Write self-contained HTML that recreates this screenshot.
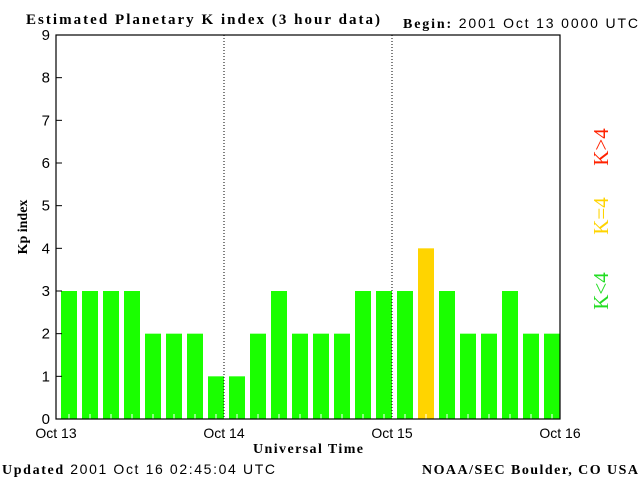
<!DOCTYPE html>
<html><head><meta charset="utf-8"><style>
body{margin:0;background:#fff;width:640px;height:480px;overflow:hidden}
svg text{font-family:"Liberation Sans",sans-serif;font-size:13px}
.b{font-family:"Liberation Serif",serif;font-weight:bold}
.lg{font-family:"Liberation Serif",serif;font-size:21px}
</style></head><body>
<svg width="640" height="480">
<text class="b" x="26" y="24" textLength="354" lengthAdjust="spacing" style="font-size:15px">Estimated Planetary K index (3 hour data)</text>
<text x="403" y="28" textLength="235" lengthAdjust="spacing" style="font-size:14px"><tspan class="b">Begin:</tspan> 2001 Oct 13 0000 UTC</text>
<g id="plot"></g>
<text class="b" transform="translate(27,227) rotate(-90)" text-anchor="middle" style="font-size:14px">Kp index</text>
<text class="b" x="253" y="453" textLength="110" lengthAdjust="spacing" style="font-size:14px">Universal Time</text>
<text x="2" y="474" textLength="273" lengthAdjust="spacing" style="font-size:14px"><tspan class="b">Updated</tspan> 2001 Oct 16 02:45:04 UTC</text>
<text class="b" x="422" y="474" textLength="216" lengthAdjust="spacing" style="font-size:14px">NOAA/SEC Boulder, CO USA</text>
<text class="lg" transform="translate(608,291) rotate(-90)" text-anchor="middle" fill="#22dd22">K&lt;4</text>
<text class="lg" transform="translate(608,216) rotate(-90)" text-anchor="middle" fill="#ffd400">K=4</text>
<text class="lg" transform="translate(608,147) rotate(-90)" text-anchor="middle" fill="#ff2200">K&gt;4</text>
</svg>
<script>
const kpValues=[3,3,3,3,2,2,2,1,1,2,3,2,2,2,3,3,3,4,3,2,2,3,2,2];
const yTicks=[0,1,2,3,4,5,6,7,8,9];
const dayLabels=["Oct 13","Oct 14","Oct 15","Oct 16"];
const NS="http://www.w3.org/2000/svg";
const g=document.getElementById('plot');
const L=56,R=560,T=35,B=419;
const yS=v=>B-(B-T)*v/9;
const slot=(R-L)/kpValues.length;
const xS=i=>L+i*slot;
function mk(t,a){const e=document.createElementNS(NS,t);for(const k in a)e.setAttribute(k,a[k]);g.appendChild(e);return e;}
kpValues.forEach((v,i)=>{
 const col=v<4?'#1aff00':(v==4?'#ffd400':'#ff2200');
 const r=mk('rect',{x:xS(i)+5,y:yS(v),width:slot-5,height:B-yS(v),fill:col});
 
 
 const t=mk('line',{x1:xS(i)+13,x2:xS(i)+13,y1:B,y2:B-5,stroke:'#fff'});
 
 
});
for(let d=1;d<dayLabels.length-1;d++){
 const x=L+d*8*slot;
 const l=mk('line',{x1:x,x2:x,y1:T,y2:B,stroke:'#000','stroke-dasharray':'1,2'});
 
 
}
const ax=mk('rect',{x:L,y:T,width:R-L,height:B-T,fill:'none',stroke:'#000','stroke-width':1.2});


yTicks.forEach(v=>{
 const y=yS(v);
 mk('line',{x1:L,x2:L+6,y1:y,y2:y,stroke:'#000'});
 const t=mk('text',{x:L-6,y:y+5,'text-anchor':'end',style:'font-size:15px'});
 t.textContent=v;
 
 
});
dayLabels.forEach((s,d)=>{
 const t=mk('text',{x:L+d*8*slot,y:438,'text-anchor':'middle',style:'font-size:14px'});
 t.textContent=s;
 
 
});
</script>
</body></html>
